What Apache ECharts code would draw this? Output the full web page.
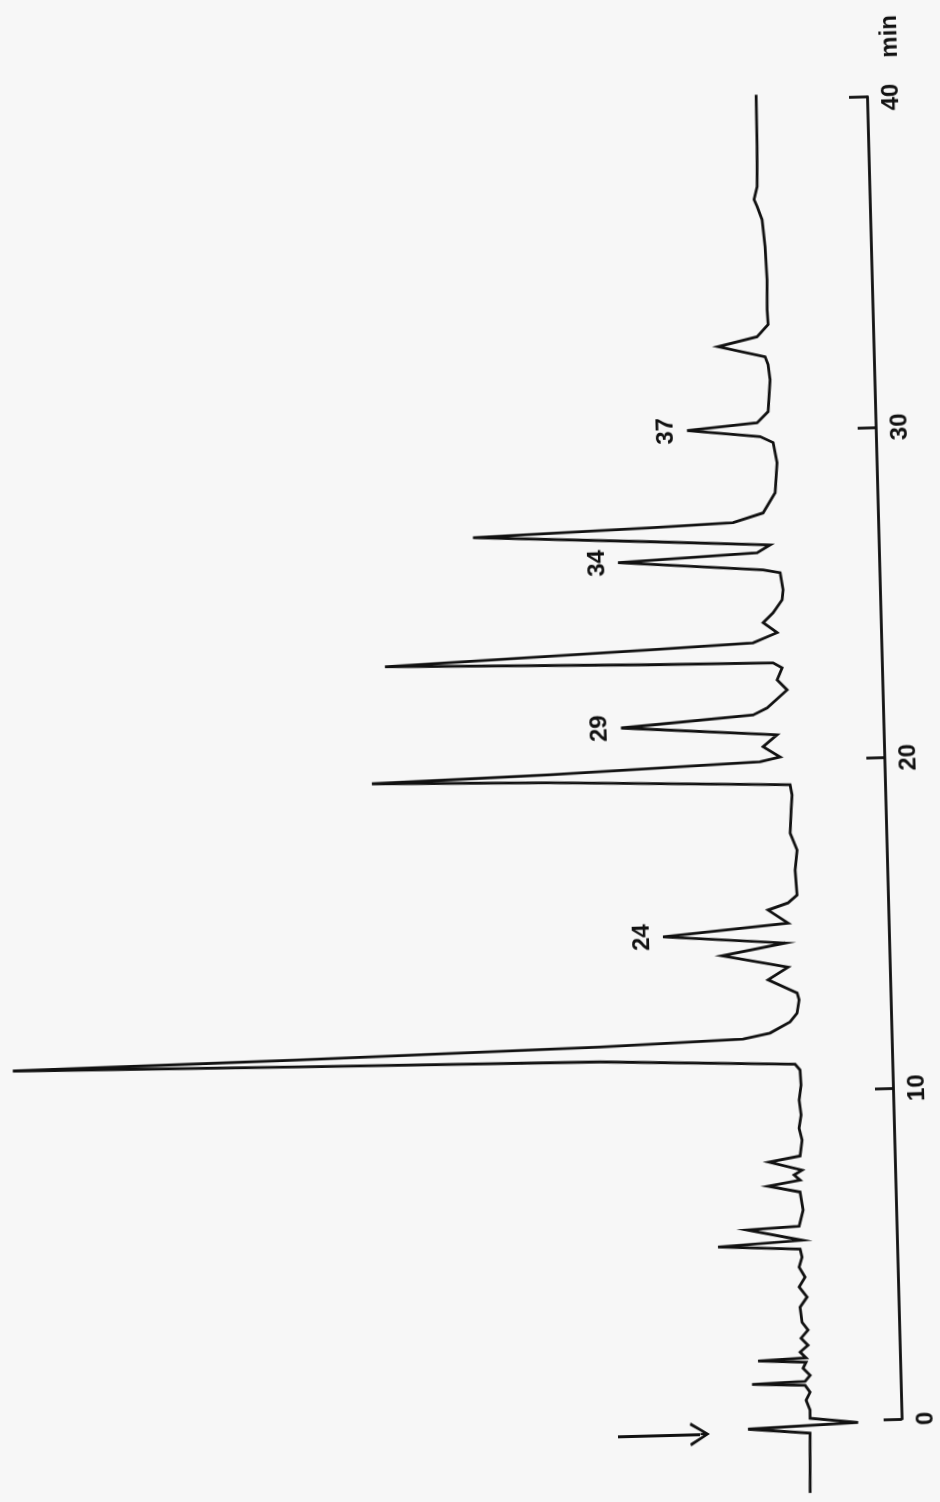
<!DOCTYPE html>
<html>
  <head>
    <meta charset="utf-8" />
    <script src="https://cdn.jsdelivr.net/npm/echarts@6/dist/echarts.min.js"></script>
    <style>
      html, body { margin: 0; height: 100%; background: #f7f7f7; overflow: hidden; }
      /* the scanned chart sits slightly tilted */
      #container {
        width: 940px; height: 1502px;
        transform: rotate(-1.5deg); transform-origin: 470px 751px;
      }
    </style>
  </head>
  <body>
    <div id="container"></div>
    <script type="text/javascript">
      // retention time (min) and detector signal (arbitrary units) along the trace
      var time = [-2.17,-0.36,-0.19,-0.07,0.09,0.34,0.64,0.88,1.09,1.16,
        1.21,1.39,1.61,1.79,1.86,1.92,2.10,2.30,2.52,2.76,
        3.00,3.46,3.76,4.07,4.36,4.67,4.97,5.21,5.34,5.48,
        5.83,5.91,6.39,6.94,7.14,7.30,7.46,7.60,7.87,8.03,
        8.51,8.87,9.27,9.72,10.17,10.63,10.81,11.03,11.12,11.22,
        11.33,11.48,11.61,11.77,12.09,12.35,12.75,12.96,13.38,13.75,
        14.14,14.48,14.76,15.08,15.49,15.69,15.92,16.68,17.28,17.80,
        18.50,18.95,19.26,19.51,19.62,19.75,19.98,20.11,20.43,20.78,
        21.11,21.40,21.60,22.13,22.44,22.80,22.96,23.00,23.15,23.45,
        23.58,23.87,24.18,24.47,24.86,25.16,25.68,25.78,26.11,26.30,
        26.53,26.72,26.98,27.14,27.23,27.50,28.10,29.01,29.62,29.81,
        30.05,30.23,30.56,31.52,31.98,32.22,32.56,32.83,33.19,33.64,
        34.55,35.55,36.37,36.77,36.98,37.37,38.58,40.15];
      var signal = [93.4,91.9,153.8,43.6,91.5,91.3,95.0,90.8,95.6,148.6,
        95.5,90.3,97.2,94.0,142.0,93.9,99.7,91.6,98.4,91.2,
        97.0,98.6,91.3,99.0,92.8,98.5,95.3,97.0,179.0,94.8,
        149.5,97.4,93.0,95.6,127.4,95.2,101.1,93.0,125.8,94.6,
        92.2,94.9,92.5,94.1,91.8,92.4,97.2,292.1,592.3,879.4,
        592.1,291.8,148.5,121.4,101.1,93.9,91.5,93.3,122.0,101.7,
        167.4,104.0,225.9,100.5,120.2,100.0,90.8,92.1,89.6,96.1,
        94.5,93.2,94.9,334.8,512.9,334.6,124.3,104.2,120.9,106.6,
        262.4,130.1,115.9,95.4,105.1,99.8,108.7,231.7,496.8,231.4,
        128.2,103.9,117.6,107.4,98.0,96.8,99.3,116.3,261.1,121.8,
        108.6,228.5,405.4,228.2,145.0,114.8,102.2,99.5,102.9,115.8,
        188.6,118.4,107.1,104.3,105.9,108.7,155.4,116.2,104.8,105.4,
        104.7,105.8,108.1,112.7,115.6,112.2,111.2,110.8];

      // numbered peaks (retention time of the apex)
      var peakNames = ["24", "29", "34", "37"];
      var peakTimes = [14.76, 21.11, 26.11, 30.05];

      // injection arrow: signal range at its time
      var injectTime = -0.3;
      var injectFrom = 284;
      var injectTo = 202;

      var timeTicks = [0, 10, 20, 30, 40];
      var timeUnit = "min";

      var trace = time.map(function (t, i) { return [signal[i], t]; });
      var peakMarks = peakNames.map(function (n, k) {
        var i = time.indexOf(peakTimes[k]);
        return { name: n, coord: [signal[i], time[i]] };
      });

      var ink = "#111";
      var labelFont = {
        color: ink,
        fontSize: 24,
        fontWeight: "bold",
        fontFamily: "Liberation Sans"
      };
      var lastTick = timeTicks[timeTicks.length - 1];
      var myChart = echarts.init(document.getElementById("container"));
      var option = {
        animation: false,
        grid: [
          { left: 0, right: 56, top: 107.4, bottom: 5.9 },
          { left: 0, right: 56, top: 107.4, bottom: 72 }
        ],
        xAxis: [
          { type: "value", gridIndex: 0, min: 0, max: 884, inverse: true, show: false },
          { type: "value", gridIndex: 1, min: 0, max: 884, inverse: true, show: false }
        ],
        yAxis: [
          { type: "value", gridIndex: 0, min: -2, max: 40, show: false },
          {
            type: "value",
            gridIndex: 1,
            position: "right",
            min: timeTicks[0],
            max: lastTick,
            interval: 10,
            axisLine: { show: true, lineStyle: { color: ink, width: 2.8 } },
            axisTick: { show: true, inside: true, length: 18, lineStyle: { color: ink, width: 2.8 } },
            splitLine: { show: false },
            axisLabel: Object.assign({
              rotate: 90,
              margin: 12,
              // last tick carries the unit, keeping the number centred on it
              formatter: function (v) {
                return v === lastTick ? "{s| }" + v + "{g| }" + timeUnit : String(v);
              },
              rich: {
                s: { width: 67 },
                g: { width: 26 }
              }
            }, labelFont)
          }
        ],
        series: [
          {
            type: "line",
            xAxisIndex: 0,
            yAxisIndex: 0,
            data: trace,
            showSymbol: false,
            clip: false,
            lineStyle: { color: ink, width: 2.8, join: "miter" },
            markPoint: {
              symbol: "circle",
              symbolSize: 0,
              data: peakMarks,
              label: Object.assign({
                show: true,
                formatter: "{b}",
                position: "inside",
                offset: [0, -21],
                rotate: 90
              }, labelFont)
            },
            markLine: {
              silent: true,
              symbol: ["none", "path://M0,20 L10,0 L20,20 L17.5,21 L10,5 L2.5,21 Z M9,2 L11,2 L11,10 L9,10 Z"],
              symbolSize: [24, 20],
              label: { show: false },
              lineStyle: { color: ink, width: 2.8, type: "solid" },
              data: [[{ coord: [injectFrom, injectTime] }, { coord: [injectTo, injectTime] }]]
            }
          }
        ]
      };
      myChart.setOption(option);
    </script>
  </body>
</html>
